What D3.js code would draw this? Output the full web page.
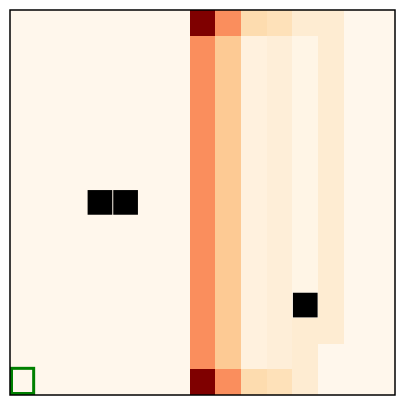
<!DOCTYPE html>
<html><head><meta charset="utf-8">
<script src="https://cdn.jsdelivr.net/npm/d3@7"></script>
<style>body{margin:0;background:#fff}</style>
</head><body>
<script>
const rowsIdx = d3.range(15);
const colsIdx = d3.range(15);
// value grid (null = blocked cell, drawn black)
const row0  = [0,0,0,0,0,0,0,1.0,0.5,0.2,0.17,0.09,0.09,0,0];
const rowM  = [0,0,0,0,0,0,0,0.5,0.3,0.05,0.07,0.02,0.09,0,0];
const row7  = [0,0,0,null,null,0,0,0.5,0.3,0.05,0.07,0.02,0.09,0,0];
const row11 = [0,0,0,0,0,0,0,0.5,0.3,0.05,0.07,null,0.09,0,0];
const row12 = [0,0,0,0,0,0,0,0.5,0.3,0.05,0.07,0.09,0.09,0,0];
const row13 = [0,0,0,0,0,0,0,0.5,0.3,0.05,0.07,0.09,0,0,0];
const row14 = [0,0,0,0,0,0,0,1.0,0.5,0.2,0.17,0.09,0,0,0];
const grid = [row0,rowM,rowM,rowM,rowM,rowM,rowM,row7,rowM,rowM,rowM,row11,row12,row13,row14];
const startCell = {row:14, col:0};

const W=405,H=405, L=10, T=10, R=395, B=395;
const svg = d3.select("body").append("svg").attr("width",W).attr("height",H);
const x = d3.scaleBand().domain(colsIdx).range([L,R]);
const y = d3.scaleBand().domain(rowsIdx).range([T,B]);
const color = d3.scaleSequential(d3.interpolateOrRd).domain([0,1]);

svg.append("clipPath").attr("id","clip").append("rect")
  .attr("x",L).attr("y",T).attr("width",R-L).attr("height",B-T);

const cells = [];
grid.forEach((r,i)=>r.forEach((v,j)=>cells.push({i,j,v})));
const g = svg.append("g").attr("clip-path","url(#clip)");
g.selectAll("rect.cell").data(cells).join("rect").attr("class","cell")
  .attr("x",d=>x(d.j)).attr("y",d=>y(d.i))
  .attr("width",x.bandwidth()+0.5).attr("height",y.bandwidth()+0.5)
  .attr("fill",d=>d.v===null? color(0) : color(d.v))
  .attr("shape-rendering","crispEdges");
g.selectAll("rect.block").data(cells.filter(d=>d.v===null)).join("rect").attr("class","block")
  .attr("x",d=>x(d.j)+0.6).attr("y",d=>y(d.i)+0.4)
  .attr("width",x.bandwidth()-1).attr("height",y.bandwidth()-1)
  .attr("fill","#000");

g.append("rect")
  .attr("x",x(startCell.col)+1.5).attr("y",y(startCell.row)-1)
  .attr("width",x.bandwidth()-3.5).attr("height",y.bandwidth()-0.5)
  .attr("fill","none").attr("stroke","#008000").attr("stroke-width",3);

svg.append("rect").attr("x",L).attr("y",T).attr("width",R-L).attr("height",B-T)
  .attr("fill","none").attr("stroke","#000").attr("stroke-width",1.5);
</script>
</body></html>
